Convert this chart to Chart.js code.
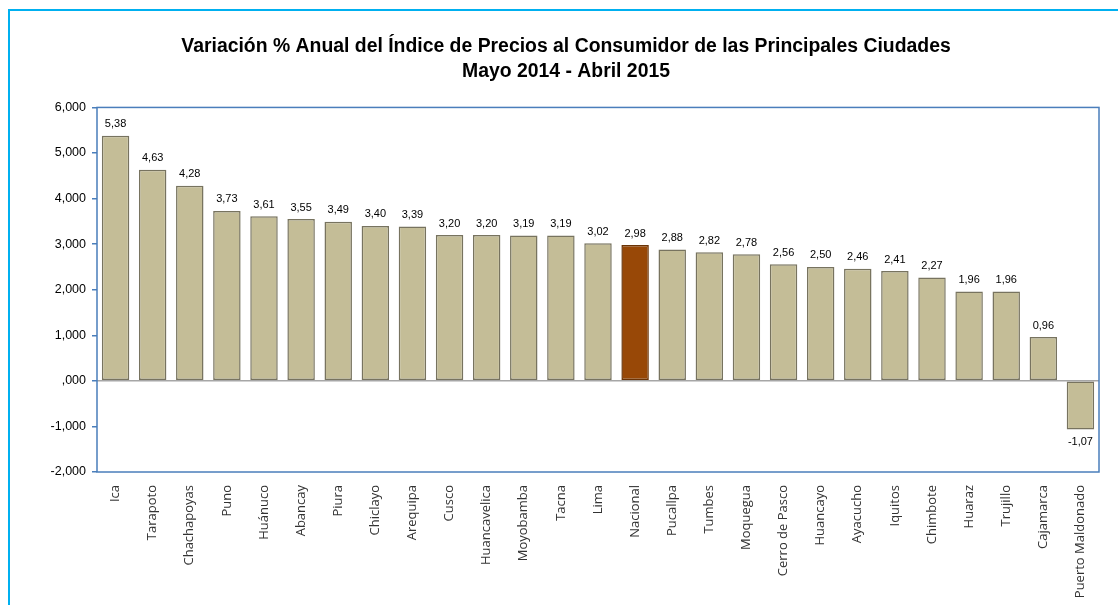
<!DOCTYPE html>
<html>
<head>
<meta charset="utf-8">
<script src="https://cdn.jsdelivr.net/npm/chart.js@4"></script>
<style>
  html, body { margin: 0; padding: 0; background: #fff; }
  #wrap { position: relative; width: 1118px; height: 605px; overflow: hidden; }
  #frame { position: absolute; left: 8px; top: 9px; width: 1200px; height: 700px;
    border-left: 2px solid #00b0f0; border-top: 2px solid #00b0f0; pointer-events: none; }
</style>
</head>
<body>
<div id="wrap">
  <canvas id="chart" width="1118" height="605"></canvas>
  <div id="frame"></div>
</div>
<script>
const cities = ['Ica', 'Tarapoto', 'Chachapoyas', 'Puno', 'Huánuco', 'Abancay', 'Piura', 'Chiclayo',
  'Arequipa', 'Cusco', 'Huancavelica', 'Moyobamba', 'Tacna', 'Lima', 'Nacional', 'Pucallpa', 'Tumbes',
  'Moquegua', 'Cerro de Pasco', 'Huancayo', 'Ayacucho', 'Iquitos', 'Chimbote', 'Huaraz', 'Trujillo',
  'Cajamarca', 'Puerto Maldonado'];
const variation = [5.38, 4.63, 4.28, 3.73, 3.61, 3.55, 3.49, 3.40, 3.39, 3.20, 3.20, 3.19, 3.19, 3.02,
  2.98, 2.88, 2.82, 2.78, 2.56, 2.50, 2.46, 2.41, 2.27, 1.96, 1.96, 0.96, -1.07];
const yTicks = [-2, -1, 0, 1, 2, 3, 4, 5, 6];
const yTickLabels = ['-2,000', '-1,000', ',000', '1,000', '2,000', '3,000', '4,000', '5,000', '6,000'];

const highlight = 'Nacional';
const fillColors = cities.map((c) => (c === highlight ? '#984807' : '#c4bd97'));
const borderColors = cities.map((c) => (c === highlight ? '#6a3306' : '#77735f'));

const plotBorder = {
  id: 'plotBorder',
  afterDraw(chart) {
    const { ctx, chartArea: a } = chart;
    ctx.save();
    ctx.strokeStyle = '#4a7ebb';
    ctx.lineWidth = 1.5;
    ctx.strokeRect(a.left, a.top, a.right - a.left, a.bottom - a.top);
    ctx.restore();
  },
};

const valueLabels = {
  id: 'valueLabels',
  afterDatasetsDraw(chart) {
    const { ctx } = chart;
    const meta = chart.getDatasetMeta(0);
    ctx.save();
    ctx.font = '11px "Liberation Sans", Arial, sans-serif';
    ctx.fillStyle = '#000';
    ctx.textAlign = 'center';
    meta.data.forEach((bar, i) => {
      const v = variation[i];
      const txt = v.toFixed(2).replace('.', ',');
      if (v >= 0) {
        ctx.textBaseline = 'bottom';
        ctx.fillText(txt, bar.x, bar.y - 6);
      } else {
        ctx.textBaseline = 'top';
        ctx.fillText(txt, bar.x, bar.y + 7);
      }
    });
    ctx.restore();
  },
};

new Chart(document.getElementById('chart'), {
  type: 'bar',
  data: {
    labels: cities,
    datasets: [{
      data: variation,
      backgroundColor: fillColors,
      borderColor: borderColors,
      borderWidth: 1.5,
      borderSkipped: false,
      barPercentage: 0.74,
      categoryPercentage: 1,
    }],
  },
  options: {
    responsive: false,
    animation: false,
    layout: { padding: { left: 33, right: 19, top: 5, bottom: 0 } },
    plugins: {
      legend: { display: false },
      tooltip: { enabled: false },
      title: {
        display: true,
        text: ['Variación % Anual del Índice de Precios al Consumidor de las Principales Ciudades', 'Mayo 2014 - Abril 2015'],
        color: '#000',
        font: { family: '"Liberation Sans", Arial, sans-serif', size: 19.4, weight: 'bold', lineHeight: 1.3 },
        padding: { top: 29, bottom: 23 },
      },
    },
    scales: {
      x: {
        afterFit(scale) { scale.height = 133; },
        grid: { display: false },
        border: { display: false },
        ticks: {
          color: '#333',
          font: { family: '"Open Sans", sans-serif', size: 13 },
          minRotation: 90,
          maxRotation: 90,
          autoSkip: false,
          padding: 5,
        },
      },
      y: {
        min: -2,
        max: 6,
        afterFit(scale) { scale.width = 64; },
        afterBuildTicks(scale) { scale.ticks = yTicks.map((v) => ({ value: v })); },
        border: { display: false },
        grid: {
          color: (c) => (c.tick && c.tick.value === 0 ? '#a6a6a6' : 'rgba(0,0,0,0)'),
          lineWidth: 1.5,
          tickColor: '#4a7ebb',
          tickLength: 5,
        },
        ticks: {
          color: '#000',
          font: { family: '"Liberation Sans", Arial, sans-serif', size: 12.5 },
          padding: 6,
          callback: (v) => yTickLabels[yTicks.indexOf(v)],
        },
      },
    },
  },
  plugins: [plotBorder, valueLabels],
});
</script>
</body>
</html>
